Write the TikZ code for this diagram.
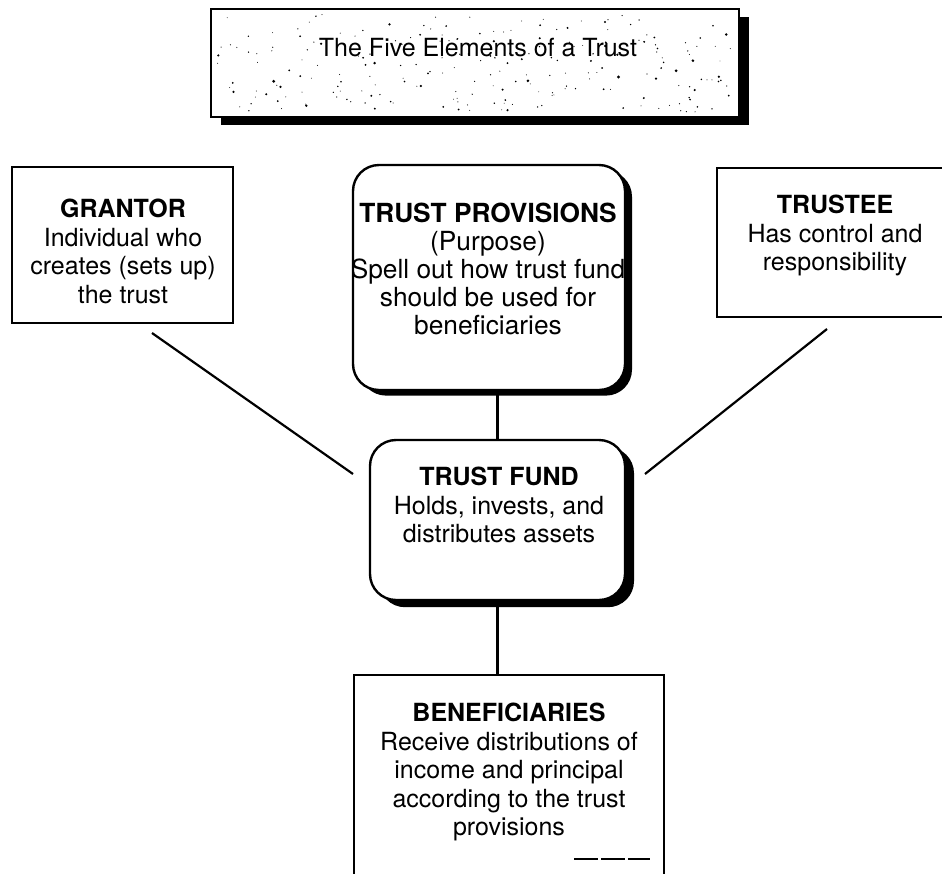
\documentclass[tikz,border=0pt]{standalone}
\usepackage{fontspec}
\setmainfont{TeX Gyre Heros}
\usetikzlibrary{shadows}
\begin{document}
\begin{tikzpicture}[x=1pt,y=-1pt,
  box/.style={draw, line width=2.4pt, fill=white, inner sep=0pt},
  heavyshadow/.style={drop shadow={shadow xshift=#1, shadow yshift=-#1*0.8, fill=black, opacity=1}},
  rbox/.style={box, rounded corners=26pt},
  txt/.style={align=center, inner sep=0pt, anchor=north, font=\fontsize{25}{28.5}\selectfont},
  link/.style={line width=2.2pt}]
\useasboundingbox (0,0) rectangle (942,873);
\clip (0,0) rectangle (942,873);

% title panel with stippled fill
\node[box, heavyshadow=10pt, minimum width=528pt, minimum height=108pt] (titlebox) at (475,63) {};
\pgfmathsetseed{4217}
\foreach \i in {1,...,230}{
  \pgfmathsetmacro\xx{216+518*rnd}
  \pgfmathsetmacro\yy{14+98*rnd}
  \pgfmathsetmacro\rr{0.45+1.2*rnd*rnd}
  \fill (\xx,\yy) circle[radius=\rr pt];
}
\node[txt, anchor=center] (title) at (478,48) {The Five Elements of a Trust};

% the five elements
\node[box, minimum width=221pt, minimum height=156pt] (grantor) at (122.5,245) {};
\node[txt] (grantortxt) at (123,199) {\textbf{GRANTOR}\\Individual who\\creates (sets up)\\the trust};

\node[rbox, heavyshadow=7pt, minimum width=272pt, minimum height=225pt] (prov) at (489,277.5) {};
\node[txt, font=\fontsize{26.3}{28}\selectfont] (provtxt) at (488,203) {\textbf{TRUST PROVISIONS}\\(Purpose)\\Spell out how trust fund\\should be used for\\beneficiaries};

\node[box, minimum width=260pt, minimum height=149pt] (trustee) at (847,242.5) {};
\node[txt] (trusteetxt) at (835,195) {\textbf{TRUSTEE}\\Has control and\\responsibility};

\node[rbox, heavyshadow=9pt, minimum width=255pt, minimum height=160pt] (fund) at (497.5,520) {};
\node[txt] (fundtxt) at (499,467) {\textbf{TRUST FUND}\\Holds, invests, and\\distributes assets};

\node[box, minimum width=310pt, minimum height=240pt] (ben) at (509,795) {};
\node[txt] (bentxt) at (509,703) {\textbf{BENEFICIARIES}\\Receive distributions of\\income and principal\\according to the trust\\provisions};
\draw[line width=1.1pt, dash pattern=on 24pt off 3pt] (574,859) -- (650,859);

% connectors
\coordinate (g1) at (152,333);
\coordinate (g2) at (353,474);
\coordinate (t1) at (827,329);
\coordinate (t2) at (645,474);
\draw[link] (g1) -- (g2);
\draw[link] (t1) -- (t2);
\draw[link] (fund.north) -- (fund.north |- prov.south);
\draw[link] (fund.south) -- (fund.south |- ben.north);
\end{tikzpicture}
\end{document}
